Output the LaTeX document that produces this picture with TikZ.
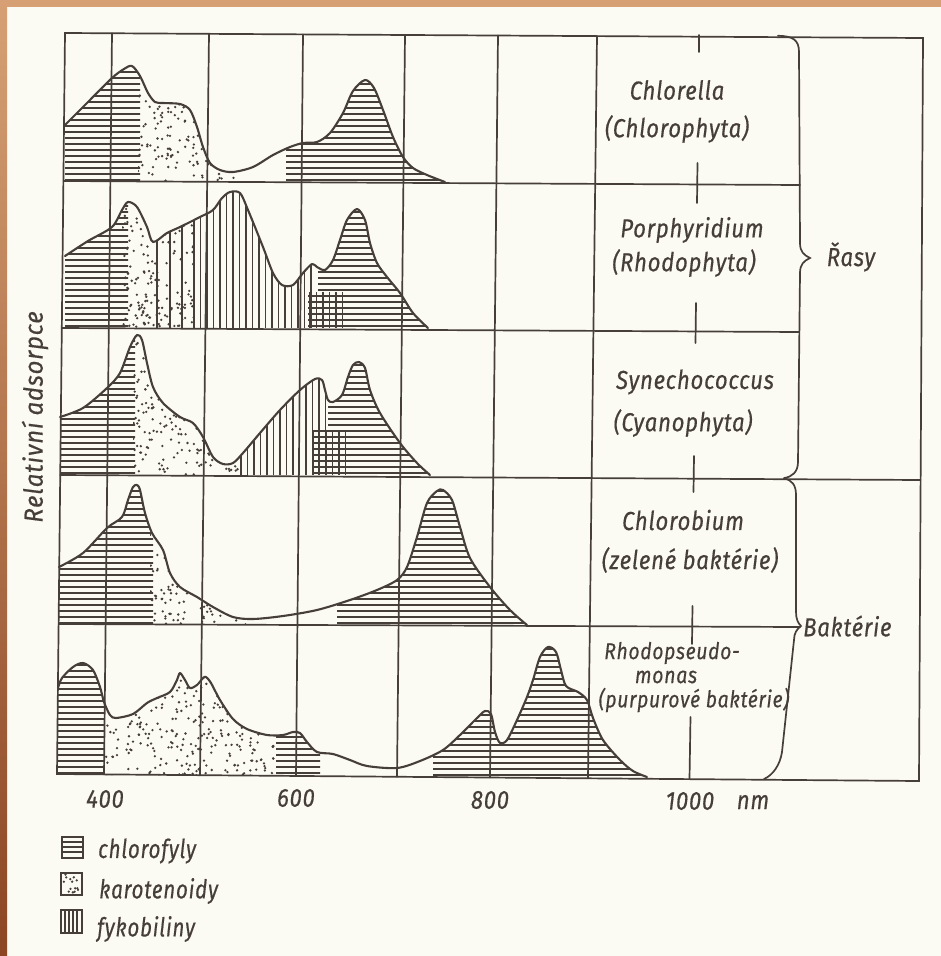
\documentclass[tikz,border=0pt]{standalone}
\usepackage{fontspec}
\newfontfamily\hand[LetterSpace=3,FakeStretch=0.85,FakeBold=0.4]{Fira Sans}
\newfontfamily\handn[LetterSpace=3,FakeStretch=0.84,FakeBold=0.4]{Fira Sans}
\newfontfamily\handl[LetterSpace=3,FakeStretch=0.79,FakeBold=0.4]{Fira Sans}
\newfontfamily\handw[LetterSpace=3,FakeStretch=0.92,FakeBold=0.4]{Fira Sans}
\definecolor{paper}{RGB}{251,250,243}
\definecolor{ink}{RGB}{70,62,57}
\definecolor{edgeA}{RGB}{214,160,116}
\definecolor{edgeB}{RGB}{140,70,34}
\newcommand\hh[4]{% x1 x2 ybase ytop
  \pgfmathtruncatemacro\nn{(#3-#4)/6}%
  \foreach \k in {0,...,\nn}{\draw[hatch] (#1,{#3-2-6*\k}) -- (#2,{#3-2-6*\k});}}
\newcommand\vv[4]{% x1 x2 ytop ybase
  \pgfmathtruncatemacro\nn{(#2-#1)/6.5}%
  \foreach \k in {0,...,\nn}{\draw[hatch] ({#1+6.5*\k},#3) -- ({#1+6.5*\k},#4);}}
\newcommand\rdots[6]{% seed x1 y1 x2 y2 count
  \pgfmathsetseed{#1}%
  \foreach \k in {1,...,#6}{\pgfmathsetmacro\dx{#2+rnd*(#4-#2)}\pgfmathsetmacro\dy{#3+rnd*(#5-#3)}\fill[ink] (\dx,\dy) circle (1.3pt);}}
\begin{document}
\begin{tikzpicture}[x=1pt,y=-1pt,
  grid/.style={draw=ink,line width=1.7pt,line cap=round},
  curve/.style={draw=ink,line width=2.1pt,line join=round,line cap=round},
  hatch/.style={draw=ink,line width=1.3pt},
  lab/.style={text=ink,inner sep=0pt,font=\hand\itshape\fontsize{26}{29}\selectfont},
  labm/.style={text=ink,inner sep=0pt,font=\hand\itshape\fontsize{23}{25}\selectfont},
  labn/.style={text=ink,inner sep=0pt,font=\handn\itshape\fontsize{23}{25}\selectfont},
  labl/.style={text=ink,inner sep=0pt,font=\handl\itshape\fontsize{26}{29}\selectfont},
  labw/.style={text=ink,inner sep=0pt,font=\handw\itshape\fontsize{26}{29}\selectfont}]
\useasboundingbox (0,0) rectangle (941,956);
\fill[paper] (0,0) rectangle (941,956);
\shade[top color=edgeA,bottom color=edgeB] (0,0) rectangle (7,956);
\fill[edgeA] (0,0) rectangle (941,7);

\def\curveA{plot[smooth,tension=.5] coordinates{(65,125) (88,102) (112,78) (124,69) (132,66) (140,76) (148,93) (155,102) (163,103) (180,104) (190,110) (197,127) (203,147) (210,163) (220,170) (233,172) (253,167) (273,155) (290,147) (303,143) (317,142) (330,133) (343,113) (353,91) (365,80) (374,88) (383,110) (393,137) (403,157) (413,168) (427,175) (445,182)}}
\def\curveB{plot[smooth,tension=.5] coordinates{(65,256) (88,241) (112,227) (122,210) (128,202) (137,207) (147,227) (153,242) (167,233) (180,227) (200,217) (213,210) (222,198) (230,192) (240,193) (248,210) (263,247) (273,273) (282,285) (293,285) (303,273) (312,264) (317,267) (325,270) (333,260) (340,240) (347,220) (357,209) (365,220) (370,243) (377,263) (387,277) (400,293) (413,313) (428,328)}}
\def\curveC{plot[smooth,tension=.5] coordinates{(60,417) (83,408) (107,388) (120,373) (130,347) (137,335) (142,340) (147,363) (153,387) (163,403) (180,417) (193,423) (203,437) (213,457) (223,464) (233,463) (243,453) (260,433) (280,410) (300,390) (315,379) (322,380) (325,390) (328,400) (333,402) (342,395) (348,377) (353,365) (359,362) (365,368) (370,390) (380,413) (400,443) (417,463) (430,475)}}
\def\curveD{plot[smooth,tension=.5] coordinates{(59,567) (83,553) (107,528) (122,517) (128,500) (133,487) (137,485) (140,490) (145,513) (152,533) (163,550) (170,573) (180,587) (197,597) (213,607) (233,617) (253,619) (283,616) (317,610) (350,600) (377,590) (397,580) (407,567) (417,537) (427,503) (437,491) (443,490) (452,500) (460,527) (470,558) (490,587) (510,610) (527,625)}}
\def\curveE{plot[smooth,tension=.5] coordinates{(58,688) (62,678) (73,667) (83,663) (93,670) (100,687) (104,702) (110,715) (116,718) (133,714) (147,703) (157,698) (170,692) (177,680) (180,673) (185,680) (190,688) (197,685) (203,678) (206,677) (211,683) (220,700) (233,719) (247,729) (267,735) (283,735) (293,732) (300,733) (307,742) (317,752) (333,754) (350,760) (367,766) (397,768) (420,761) (443,750) (460,735) (477,718) (485,711) (491,714) (495,732) (500,743) (507,740) (517,720) (527,697) (533,680) (540,657) (548,647) (556,652) (561,670) (566,686) (578,692) (587,700) (593,718) (603,740) (620,760) (633,771) (647,777)}}
\def\regA{\curveA -- (445,182) -- (65,182) -- cycle}
\def\regB{\curveB -- (428,328) -- (65,328) -- cycle}
\def\regC{\curveC -- (430,475) -- (60,475) -- cycle}
\def\regD{\curveD -- (527,625) -- (59,624) -- cycle}
\def\regE{\curveE -- (647,777) -- (58,775) -- cycle}

% Row A
\begin{scope}\clip \regA; \clip (55,0) rectangle (140,200); \hh{55}{150}{182}{60}\end{scope}
\begin{scope}\clip \regA; \clip (138,0) rectangle (236,200); \rdots{11}{138}{95}{236}{182}{150}\end{scope}
\begin{scope}\clip \regA; \clip (286,0) rectangle (460,200); \hh{286}{460}{182}{70}\end{scope}
% Row B
\begin{scope}\clip \regB; \clip (55,190) rectangle (128,330); \hh{55}{140}{328}{195}\end{scope}
\begin{scope}\clip \regB; \clip (122,190) rectangle (195,330); \rdots{12}{122}{200}{195}{328}{170}\end{scope}
\begin{scope}\clip \regB; \clip (150,180) rectangle (313,330);
  \foreach \xx in {157,170,182}{\draw[hatch] (\xx,180) -- (\xx,328);}
  \vv{194}{313}{180}{328}\end{scope}
\begin{scope}\clip \regB; \clip (308,292) rectangle (343,330); \vv{310}{343}{285}{328}\end{scope}
\begin{scope}\clip \regB; \clip (308,330) -- (308,292) -- (318,292) -- (318,190) -- (440,190) -- (440,330) -- cycle; \hh{300}{440}{328}{200}\end{scope}
% Row C
\begin{scope}\clip \regC; \clip (55,330) rectangle (135,480); \hh{55}{140}{475}{330}\end{scope}
\begin{scope}\clip \regC; \clip (133,330) rectangle (242,480); \rdots{13}{133}{335}{242}{475}{270}\end{scope}
\begin{scope}\clip \regC; \clip (240,360) rectangle (329,480); \vv{241}{329}{360}{475}\end{scope}
\begin{scope}\clip \regC; \clip (313,430) rectangle (348,480); \vv{313}{348}{425}{475}\end{scope}
\begin{scope}\clip \regC; \clip (313,480) -- (313,430) -- (328,430) -- (328,340) -- (440,340) -- (440,480) -- cycle; \hh{305}{440}{475}{355}\end{scope}
% Row D
\begin{scope}\clip \regD; \clip (50,480) rectangle (153,630); \hh{50}{160}{625}{480}\end{scope}
\begin{scope}\clip \regD; \clip (150,480) rectangle (246,630); \rdots{14}{150}{485}{246}{625}{250}\end{scope}
\begin{scope}\clip \regD; \clip (337,480) rectangle (540,630); \hh{337}{540}{625}{485}\end{scope}
% Row E
\begin{scope}\clip \regE; \clip (50,650) rectangle (104,780); \hh{50}{110}{775}{655}\end{scope}
\begin{scope}\clip \regE; \clip (104,650) rectangle (278,780); \rdots{15}{104}{668}{278}{776}{330}\end{scope}
\begin{scope}\clip \regE; \clip (276,650) rectangle (320,780); \hh{270}{325}{775}{725}\end{scope}
\begin{scope}\clip \regE; \clip (433,640) rectangle (660,780); \hh{433}{660}{777}{640}\end{scope}

% grid
\draw[grid] (65,33) -- (923,38) -- (919,781) -- (57,774) -- cycle;
\draw[grid] (63.4,181) -- (800,185);
\draw[grid] (61.8,328) -- (799,332);
\draw[grid] (60.2,475) -- (920.6,480);
\draw[grid] (58.6,624) -- (800,627);
\draw[grid] (112,33.3) -- (104,774.4);
\draw[grid] (209,33.9) -- (200,775.2);
\draw[grid] (303,34.4) -- (296,775.9);
\draw[grid] (405,35.0) -- (397,776.8);
\draw[grid] (498,35.5) -- (490,777.5);
\draw[grid] (597,36.1) -- (588,778.3);
\draw[grid] (699,35) -- (699,52);
\draw[grid] (697.5,163) -- (697,203);
\draw[grid] (696,303) -- (695.5,343);
\draw[grid] (694,456) -- (693.5,492);
\draw[grid] (692.5,606) -- (692,644);
\draw[grid] (690.5,717) -- (689.5,779);
% braces
\draw[grid] (778,35.8) .. controls (793,36) and (799,40) .. (799,52) -- (800,243) .. controls (800,252) and (804,255) .. (810,258) .. controls (804,261) and (800,264) .. (800,273) -- (798,462) .. controls (798,472) and (792,477) .. (784,478);
\draw[grid] (784,478.5) .. controls (792,480) and (796,485) .. (796,495) -- (796,612) .. controls (796,619) and (798,623) .. (801,626) .. controls (797,629) and (794,633) .. (794,640) -- (782,752) .. controls (780,765) and (773,775) .. (764,779);

% curves
\draw[curve] \curveA;
\draw[curve] \curveB;
\draw[curve] \curveC;
\draw[curve] \curveD;
\draw[curve] \curveE;

% labels
\node[lab] (chl) at (677,90) {Chlorella};
\node[lab] (chlp) at (677,129) {(Chlorophyta)};
\node[lab] (por) at (692,230) {Porphyridium};
\node[lab] (rhp) at (684,263) {(Rhodophyta)};
\node[lab] (syn) at (695,382) {Synechococcus};
\node[lab] (cya) at (683,423) {(Cyanophyta)};
\node[lab] (cho) at (683,520) {Chlorobium};
\node[lab] (zel) at (690,560) {(zelené baktérie)};
\node[labn] (rps) at (672,653) {Rhodopseudo-};
\node[labm] (mon) at (666,677) {monas};
\node[labn] (pur) at (694,700) {(purpurové baktérie)};
\node[lab] (ras) at (851,257) {Řasy};
\node[lab,anchor=west] (bak) at (803,626) {Baktérie};
\node[lab] (n400) at (105,799) {400};
\node[lab] (n600) at (296,798) {600};
\node[lab] (n800) at (490,800) {800};
\node[lab] (n1000) at (690,801) {1000};
\node[lab] (nnm) at (753,802) {nm};
\node[labw,rotate=90] (ylab) at (35,417) {Relativní adsorpce};

% legend
\draw[grid,line width=1.3pt] (62,837) rectangle (83,858);
\foreach \yy in {842,847,852}{\draw[hatch] (62,\yy) -- (83,\yy);}
\draw[grid,line width=1.3pt] (61,873) rectangle (82,895);
\begin{scope}\clip (62,874) rectangle (81,894); \rdots{21}{62}{874}{81}{894}{14}\end{scope}
\draw[grid,line width=1.3pt] (61,910) rectangle (82,933);
\foreach \xx in {65,69,73,77}{\draw[hatch] (\xx,910) -- (\xx,933);}
\node[labl,anchor=west] (lg1) at (98,851) {chlorofyly};
\node[labl,anchor=west] (lg2) at (99,891) {karotenoidy};
\node[labl,anchor=west] (lg3) at (97,929) {fykobiliny};
\end{tikzpicture}
\end{document}
